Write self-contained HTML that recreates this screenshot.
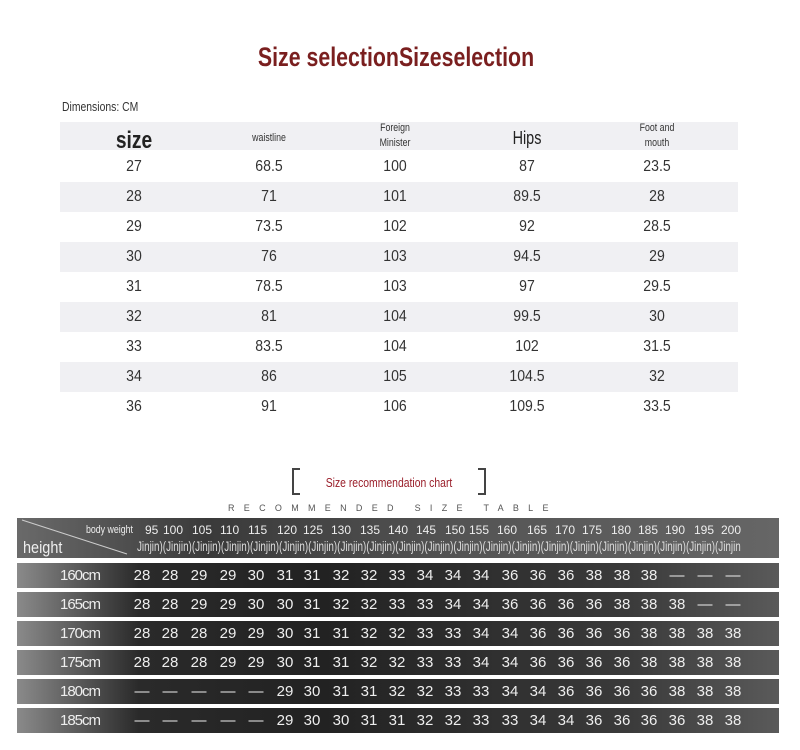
<!DOCTYPE html>
<html><head><meta charset="utf-8"><style>
*{margin:0;padding:0;box-sizing:border-box}
body{width:800px;height:750px;background:#fff;position:relative;overflow:hidden;font-family:"Liberation Sans",sans-serif;color:#333}
.a{position:absolute}
.title{left:0;width:792px;top:42px;text-align:center;font-size:27px;font-weight:bold;color:#7a1f1f;transform:scaleX(0.79);transform-origin:396px 0}
.band{left:60px;width:678px;background:#f0f0f3}
.tr{left:60px;width:678px;height:30px;font-size:16px;color:#333}
.tr span{position:absolute;top:6px;width:100px;text-align:center;margin-left:-50px;transform:scaleX(0.88)}
.brow{left:17px;width:762px;height:25px;background:linear-gradient(90deg,#8a8a8a 0%,#2a2a2a 16%,#222 40%,#3a3a3a 80%,#5a5a5a 100%);color:#eee;font-family:"Liberation Sans",sans-serif;font-size:15px}
.brow .h{position:absolute;left:43px;top:4px;font-size:15px;letter-spacing:-1px}
.brow .c{position:absolute;top:4px;width:28px;margin-left:-14px;text-align:center}
.n{transform:scaleX(0.8);transform-origin:50% 0}
</style></head><body>
<div class="a title">Size selectionSizeselection</div>
<div class="a" style="left:62px;top:99px;font-size:13px;color:#333;transform:scaleX(0.8);transform-origin:0 0">Dimensions: CM</div>
<div class="a band" style="top:122px;height:28px"></div>
<div class="a n" style="left:84px;width:100px;text-align:center;top:127px;font-size:24px;font-weight:bold;color:#222">size</div>
<div class="a n" style="left:219px;width:100px;text-align:center;top:132px;font-size:11px">waistline</div>
<div class="a n" style="left:345px;width:100px;text-align:center;top:121px;font-size:11px;line-height:15px">Foreign<br>Minister</div>
<div class="a n" style="left:477px;width:100px;text-align:center;top:128px;font-size:18px;color:#222">Hips</div>
<div class="a n" style="left:607px;width:100px;text-align:center;top:121px;font-size:11px;line-height:15px">Foot and<br>mouth</div>

<div class="a tr" style="top:152px"><span style="left:74px">27</span><span style="left:209px">68.5</span><span style="left:335px">100</span><span style="left:467px">87</span><span style="left:597px">23.5</span></div>
<div class="a tr" style="top:182px;background:#f0f0f3"><span style="left:74px">28</span><span style="left:209px">71</span><span style="left:335px">101</span><span style="left:467px">89.5</span><span style="left:597px">28</span></div>
<div class="a tr" style="top:212px"><span style="left:74px">29</span><span style="left:209px">73.5</span><span style="left:335px">102</span><span style="left:467px">92</span><span style="left:597px">28.5</span></div>
<div class="a tr" style="top:242px;background:#f0f0f3"><span style="left:74px">30</span><span style="left:209px">76</span><span style="left:335px">103</span><span style="left:467px">94.5</span><span style="left:597px">29</span></div>
<div class="a tr" style="top:272px"><span style="left:74px">31</span><span style="left:209px">78.5</span><span style="left:335px">103</span><span style="left:467px">97</span><span style="left:597px">29.5</span></div>
<div class="a tr" style="top:302px;background:#f0f0f3"><span style="left:74px">32</span><span style="left:209px">81</span><span style="left:335px">104</span><span style="left:467px">99.5</span><span style="left:597px">30</span></div>
<div class="a tr" style="top:332px"><span style="left:74px">33</span><span style="left:209px">83.5</span><span style="left:335px">104</span><span style="left:467px">102</span><span style="left:597px">31.5</span></div>
<div class="a tr" style="top:362px;background:#f0f0f3"><span style="left:74px">34</span><span style="left:209px">86</span><span style="left:335px">105</span><span style="left:467px">104.5</span><span style="left:597px">32</span></div>
<div class="a tr" style="top:392px"><span style="left:74px">36</span><span style="left:209px">91</span><span style="left:335px">106</span><span style="left:467px">109.5</span><span style="left:597px">33.5</span></div>

<div class="a" style="left:292px;top:468px;width:8px;height:27px;border:2px solid #444;border-right:none"></div>
<div class="a" style="left:478px;top:468px;width:8px;height:27px;border:2px solid #444;border-left:none"></div>
<div class="a n" style="left:300px;width:178px;text-align:center;top:475px;font-size:13px;color:#9a1f2a">Size recommendation chart</div>
<div class="a" style="left:228px;top:503px;font-size:9px;letter-spacing:9.3px;color:#555">RECOMMENDED SIZE TABLE</div>

<div class="a" style="left:17px;top:518px;width:762px;height:40px;background:linear-gradient(90deg,#6a6a6a 0%,#3a3a3a 25%,#555 60%,#666 100%);overflow:hidden">
<div class="a" style="left:120px;top:20px;font-size:14px;color:#ddd;white-space:nowrap;transform:scaleX(0.705);transform-origin:0 0">Jinjin)(Jinjin)(Jinjin)(Jinjin)(Jinjin)(Jinjin)(Jinjin)(Jinjin)(Jinjin)(Jinjin)(Jinjin)(Jinjin)(Jinjin)(Jinjin)(Jinjin)(Jinjin)(Jinjin)(Jinjin)(Jinjin)(Jinjin)(Jinjin</div>
</div>
<svg class="a" style="left:17px;top:518px" width="120" height="40"><line x1="5" y1="2" x2="110" y2="36" stroke="#ccc" stroke-width="1"/></svg>
<div class="a" style="left:23px;top:538px;font-size:17px;color:#eee;transform:scaleX(0.85);transform-origin:0 0">height</div>
<div class="a" style="left:86px;top:524px;font-size:11px;color:#eee;transform:scaleX(0.8);transform-origin:0 0">body weight</div>
<div class="a" style="left:0;top:523px;font-size:12px;color:#eee">
<span class="a" style="left:145px">95</span><span class="a" style="left:163px">100</span><span class="a" style="left:192px">105</span><span class="a" style="left:220px">110</span><span class="a" style="left:248px">115</span><span class="a" style="left:277px">120</span><span class="a" style="left:303px">125</span><span class="a" style="left:331px">130</span><span class="a" style="left:360px">135</span><span class="a" style="left:388px">140</span><span class="a" style="left:416px">145</span><span class="a" style="left:445px">150</span><span class="a" style="left:469px">155</span><span class="a" style="left:497px">160</span><span class="a" style="left:527px">165</span><span class="a" style="left:555px">170</span><span class="a" style="left:582px">175</span><span class="a" style="left:611px">180</span><span class="a" style="left:638px">185</span><span class="a" style="left:665px">190</span><span class="a" style="left:694px">195</span><span class="a" style="left:721px">200</span></div>

<div class="a brow" style="top:563px"><span class="h">160cm</span>
<span class="c" style="left:125px">28</span><span class="c" style="left:153px">28</span><span class="c" style="left:182px">29</span><span class="c" style="left:211px">29</span><span class="c" style="left:239px">30</span><span class="c" style="left:268px">31</span><span class="c" style="left:295px">31</span><span class="c" style="left:324px">32</span><span class="c" style="left:352px">32</span><span class="c" style="left:380px">33</span><span class="c" style="left:408px">34</span><span class="c" style="left:436px">34</span><span class="c" style="left:464px">34</span><span class="c" style="left:493px">36</span><span class="c" style="left:521px">36</span><span class="c" style="left:549px">36</span><span class="c" style="left:577px">38</span><span class="c" style="left:605px">38</span><span class="c" style="left:632px">38</span><span class="c" style="left:660px">—</span><span class="c" style="left:688px">—</span><span class="c" style="left:716px">—</span></div>
<div class="a brow" style="top:592px"><span class="h">165cm</span>
<span class="c" style="left:125px">28</span><span class="c" style="left:153px">28</span><span class="c" style="left:182px">29</span><span class="c" style="left:211px">29</span><span class="c" style="left:239px">30</span><span class="c" style="left:268px">30</span><span class="c" style="left:295px">31</span><span class="c" style="left:324px">32</span><span class="c" style="left:352px">32</span><span class="c" style="left:380px">33</span><span class="c" style="left:408px">33</span><span class="c" style="left:436px">34</span><span class="c" style="left:464px">34</span><span class="c" style="left:493px">36</span><span class="c" style="left:521px">36</span><span class="c" style="left:549px">36</span><span class="c" style="left:577px">36</span><span class="c" style="left:605px">38</span><span class="c" style="left:632px">38</span><span class="c" style="left:660px">38</span><span class="c" style="left:688px">—</span><span class="c" style="left:716px">—</span></div>
<div class="a brow" style="top:621px"><span class="h">170cm</span>
<span class="c" style="left:125px">28</span><span class="c" style="left:153px">28</span><span class="c" style="left:182px">28</span><span class="c" style="left:211px">29</span><span class="c" style="left:239px">29</span><span class="c" style="left:268px">30</span><span class="c" style="left:295px">31</span><span class="c" style="left:324px">31</span><span class="c" style="left:352px">32</span><span class="c" style="left:380px">32</span><span class="c" style="left:408px">33</span><span class="c" style="left:436px">33</span><span class="c" style="left:464px">34</span><span class="c" style="left:493px">34</span><span class="c" style="left:521px">36</span><span class="c" style="left:549px">36</span><span class="c" style="left:577px">36</span><span class="c" style="left:605px">36</span><span class="c" style="left:632px">38</span><span class="c" style="left:660px">38</span><span class="c" style="left:688px">38</span><span class="c" style="left:716px">38</span></div>
<div class="a brow" style="top:650px"><span class="h">175cm</span>
<span class="c" style="left:125px">28</span><span class="c" style="left:153px">28</span><span class="c" style="left:182px">28</span><span class="c" style="left:211px">29</span><span class="c" style="left:239px">29</span><span class="c" style="left:268px">30</span><span class="c" style="left:295px">31</span><span class="c" style="left:324px">31</span><span class="c" style="left:352px">32</span><span class="c" style="left:380px">32</span><span class="c" style="left:408px">33</span><span class="c" style="left:436px">33</span><span class="c" style="left:464px">34</span><span class="c" style="left:493px">34</span><span class="c" style="left:521px">36</span><span class="c" style="left:549px">36</span><span class="c" style="left:577px">36</span><span class="c" style="left:605px">36</span><span class="c" style="left:632px">38</span><span class="c" style="left:660px">38</span><span class="c" style="left:688px">38</span><span class="c" style="left:716px">38</span></div>
<div class="a brow" style="top:679px"><span class="h">180cm</span>
<span class="c" style="left:125px">—</span><span class="c" style="left:153px">—</span><span class="c" style="left:182px">—</span><span class="c" style="left:211px">—</span><span class="c" style="left:239px">—</span><span class="c" style="left:268px">29</span><span class="c" style="left:295px">30</span><span class="c" style="left:324px">31</span><span class="c" style="left:352px">31</span><span class="c" style="left:380px">32</span><span class="c" style="left:408px">32</span><span class="c" style="left:436px">33</span><span class="c" style="left:464px">33</span><span class="c" style="left:493px">34</span><span class="c" style="left:521px">34</span><span class="c" style="left:549px">36</span><span class="c" style="left:577px">36</span><span class="c" style="left:605px">36</span><span class="c" style="left:632px">36</span><span class="c" style="left:660px">38</span><span class="c" style="left:688px">38</span><span class="c" style="left:716px">38</span></div>
<div class="a brow" style="top:708px"><span class="h">185cm</span>
<span class="c" style="left:125px">—</span><span class="c" style="left:153px">—</span><span class="c" style="left:182px">—</span><span class="c" style="left:211px">—</span><span class="c" style="left:239px">—</span><span class="c" style="left:268px">29</span><span class="c" style="left:295px">30</span><span class="c" style="left:324px">30</span><span class="c" style="left:352px">31</span><span class="c" style="left:380px">31</span><span class="c" style="left:408px">32</span><span class="c" style="left:436px">32</span><span class="c" style="left:464px">33</span><span class="c" style="left:493px">33</span><span class="c" style="left:521px">34</span><span class="c" style="left:549px">34</span><span class="c" style="left:577px">36</span><span class="c" style="left:605px">36</span><span class="c" style="left:632px">36</span><span class="c" style="left:660px">36</span><span class="c" style="left:688px">38</span><span class="c" style="left:716px">38</span></div>
</body></html>
